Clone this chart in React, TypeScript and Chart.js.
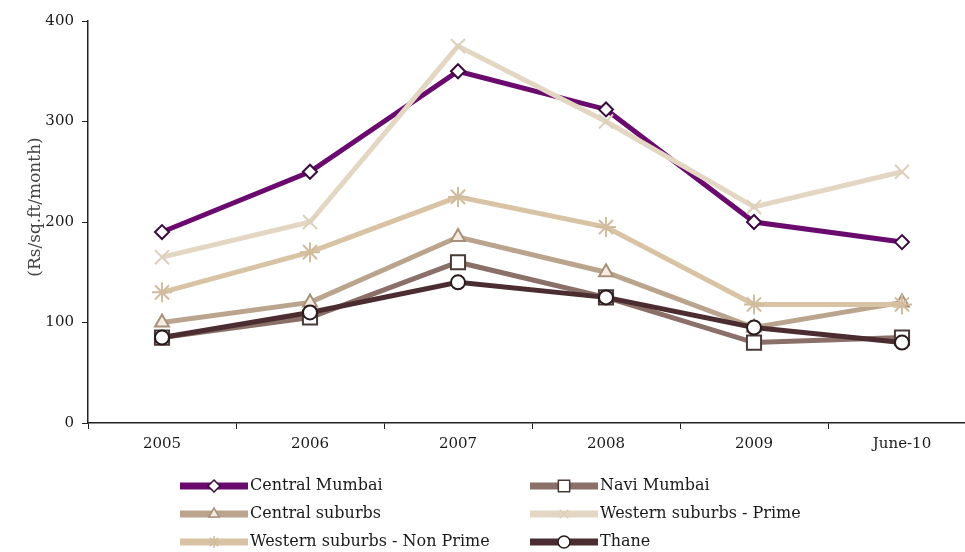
import React, { useEffect, useRef } from 'react';
import { Chart, registerables } from 'chart.js';
import { drawPoint } from 'chart.js/helpers';

Chart.register(...registerables);

const categories = ['2005', '2006', '2007', '2008', '2009', 'June-10'];
const centralMumbai = [190, 250, 350, 312, 200, 180];
const naviMumbai = [85, 105, 160, 125, 80, 85];
const centralSuburbs = [100, 120, 185, 150, 95, 120];
const westernPrime = [165, 200, 375, 300, 215, 250];
const westernNonPrime = [130, 170, 225, 195, 118, 118];
const thane = [85, 110, 140, 125, 95, 80];
const seriesNames = [
  'Central Mumbai',
  'Navi Mumbai',
  'Central suburbs',
  'Western suburbs - Prime',
  'Western suburbs - Non Prime',
  'Thane',
];
const yTitle = '(Rs/sq.ft/month)';

const FONT = "'DejaVu Serif', serif";

export default function App() {
  const ref = useRef<HTMLCanvasElement | null>(null);

  useEffect(() => {
    if (!ref.current) return;
    const mk = (i: number, data: number[], color: string, style: any, radius: number, fill: string, order: number, borderColor?: string) => ({
      label: seriesNames[i],
      data,
      borderColor: color,
      backgroundColor: fill,
      borderWidth: 5,
      pointStyle: style,
      pointRadius: radius,
      pointBorderWidth: 2,
      pointBorderColor: borderColor || color,
      pointBackgroundColor: fill,
      order,
      tension: 0,
    });

    const legendPlugin = {
      id: 'customLegend',
      afterDraw(chart: any) {
        const ctx = chart.ctx;
        ctx.save();
        // y title
        ctx.save();
        ctx.translate(36, 207);
        ctx.rotate(-Math.PI / 2);
        ctx.font = `17px ${FONT}`;
        ctx.fillStyle = '#444';
        ctx.textAlign = 'center';
        ctx.textBaseline = 'middle';
        ctx.fillText(yTitle, 0, 0);
        ctx.restore();

        chart.data.datasets.forEach((ds: any, i: number) => {
          const col = i % 2;
          const row = Math.floor(i / 2);
          const x0 = col === 0 ? 180 : 530;
          const x1 = x0 + 68;
          const y = 486 + row * 28;
          ctx.strokeStyle = ds.borderColor;
          ctx.lineWidth = 7;
          ctx.beginPath();
          ctx.moveTo(x0, y);
          ctx.lineTo(x1, y);
          ctx.stroke();
          ctx.fillStyle = ds.pointBackgroundColor;
          ctx.strokeStyle = ds.pointBorderColor;
          ctx.lineWidth = 1.5;
          const r = ds.pointStyle === 'rect' ? 8 : 6;
          drawPoint(ctx, { pointStyle: ds.pointStyle, radius: r, rotation: 0, borderWidth: 1.5 }, (x0 + x1) / 2, y);
          ctx.fillStyle = '#1a1a1a';
          ctx.font = `16px ${FONT}`;
          ctx.textAlign = 'left';
          ctx.textBaseline = 'middle';
          ctx.fillText(ds.label, x1 + 2, y);
        });
        ctx.restore();
      },
    };

    const chart = new Chart(ref.current, {
      type: 'line',
      data: {
        labels: categories,
        datasets: [
          mk(0, centralMumbai, '#6a0a6e', 'rectRot', 7, '#ffffff', 5, '#3a0a3e'),
          mk(1, naviMumbai, '#8a7068', 'rect', 10, '#ffffff', 4, '#4a3a36'),
          mk(2, centralSuburbs, '#bba48e', 'triangle', 8, '#f4ece2', 3, '#a89078'),
          mk(3, westernPrime, '#e3d6c3', 'crossRot', 10, '#e3d6c3', 2, '#ddd0bc'),
          mk(4, westernNonPrime, '#d9c3a5', 'star', 10, '#d9c3a5', 1, '#d2bc9e'),
          mk(5, thane, '#4b2c30', 'circle', 7, '#ffffff', 0, '#2a1a1c'),
        ] as any,
      },
      options: {
        animation: false,
        responsive: false,
        maintainAspectRatio: false,
        layout: { padding: { left: 0, top: 21, right: 14, bottom: 99 } },
        plugins: { legend: { display: false }, tooltip: { enabled: false }, title: { display: false } },
        scales: {
          x: {
            type: 'category',
            offset: true,
            grid: { display: true, drawOnChartArea: false, offset: true, tickLength: 6, color: '#222', tickWidth: 1 },
            border: { display: true, color: '#222', width: 1.5 },
            ticks: { font: { family: FONT, size: 15 }, color: '#1a1a1a', padding: 6, maxRotation: 0, autoSkip: false },
            afterFit: (s: any) => { s.height = 30; },
          },
          y: {
            min: 0,
            max: 400,
            ticks: { stepSize: 100, font: { family: FONT, size: 15 }, color: '#1a1a1a', padding: 8 },
            grid: { display: true, drawOnChartArea: false, tickLength: 6, color: '#222' },
            border: { display: true, color: '#222', width: 1.5 },
            afterFit: (s: any) => { s.width = 88; },
          },
        },
      },
      plugins: [legendPlugin],
    });
    return () => chart.destroy();
  }, []);

  return (
    <div style={{ position: 'fixed', left: 0, top: 0, width: 965, height: 552, overflow: 'hidden', background: '#fff' }}>
      <canvas ref={ref} width={990} height={552} style={{ display: 'block', width: 990, height: 552 }} />
    </div>
  );
}
